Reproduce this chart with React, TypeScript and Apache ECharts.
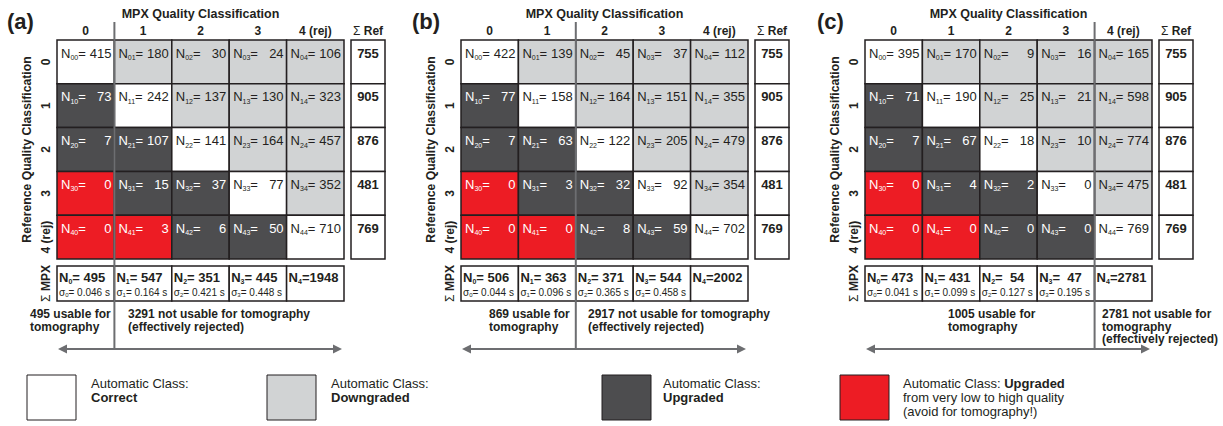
import React, { useEffect, useRef } from "react";
import * as echarts from "echarts";

// ---------- data ----------
const mpxClasses = ["0", "1", "2", "3", "4 (rej)"];
const refClasses = ["0", "1", "2", "3", "4 (rej)"];
const refTotals = [755, 905, 876, 481, 769];
const panelLabels = ["(a)", "(b)", "(c)"];

const matrixA = [
  [415, 180, 30, 24, 106],
  [73, 242, 137, 130, 323],
  [7, 107, 141, 164, 457],
  [0, 15, 37, 77, 352],
  [0, 3, 6, 50, 710],
];
const mpxTotalsA = [495, 547, 351, 445, 1948];
const sigmaA = ["0.046", "0.164", "0.421", "0.448"];

const matrixB = [
  [422, 139, 45, 37, 112],
  [77, 158, 164, 151, 355],
  [7, 63, 122, 205, 479],
  [0, 3, 32, 92, 354],
  [0, 0, 8, 59, 702],
];
const mpxTotalsB = [506, 363, 371, 544, 2002];
const sigmaB = ["0.044", "0.096", "0.365", "0.458"];

const matrixC = [
  [395, 170, 9, 16, 165],
  [71, 190, 25, 21, 598],
  [7, 67, 18, 10, 774],
  [0, 4, 2, 0, 475],
  [0, 0, 0, 0, 769],
];
const mpxTotalsC = [473, 431, 54, 47, 2781];
const sigmaC = ["0.041", "0.099", "0.127", "0.195"];

const cutoffs = [1, 2, 4];
const usableLeft = [
  "495 usable for\ntomography",
  "869 usable for\ntomography",
  "1005 usable for\ntomography",
];
const usableRight = [
  "3291 not usable for tomography\n(effectively rejected)",
  "2917 not usable for tomography\n(effectively rejected)",
  "2781 not usable for\ntomography\n(effectively rejected)",
];

const legendItems = [
  { text: "Automatic Class:\n{b|Correct}", cls: "correct" },
  { text: "Automatic Class:\n{b|Downgraded}", cls: "down" },
  { text: "Automatic Class:\n{b|Upgraded}", cls: "up" },
  {
    text: "Automatic Class: {b|Upgraded}\nfrom very low to high quality\n(avoid for tomography!)",
    cls: "red",
  },
];

// ---------- styles ----------
const FONT = '"Liberation Sans", Arial, Helvetica, sans-serif';
const INK = "#231f20";
const WHITE = "#ffffff";
const LIGHT = "#d1d3d4";
const DARK = "#4d4d4f";
const RED = "#ed1c24";
const MID = "#6d6e71";
const clsColor: Record<string, string> = { correct: WHITE, down: LIGHT, up: DARK, red: RED };

const panelLeft = [57, 461, 865];
const labelX = [7, 412, 817];
const usableLeftX = [30, 489, 948];
const usableRightX = [128, 588, 1102];
const CELL_W = 287 / 5;

function classOf(row: number, col: number) {
  const d = row - col;
  if (d === 0) return "correct";
  if (d < 0) return "down";
  if (d >= 3) return "red";
  return "up";
}

function buildOption() {
  const matrices = [matrixA, matrixB, matrixC];
  const mpxTotals = [mpxTotalsA, mpxTotalsB, mpxTotalsC];
  const sigmas = [sigmaA, sigmaB, sigmaC];

  const grid: any[] = [];
  const xAxis: any[] = [];
  const yAxis: any[] = [];
  const series: any[] = [];
  const graphic: any[] = [];

  const boldLabel = { fontWeight: "bold", fontSize: 12, color: INK, fontFamily: FONT };

  for (let p = 0; p < 3; p++) {
    const L = panelLeft[p];
    const g = p * 3;
    grid.push({ left: L, top: 40, width: 287, height: 219, outerBoundsMode: "none" });
    grid.push({ left: L + 294, top: 40, width: 34, height: 219, outerBoundsMode: "none" });
    grid.push({ left: L, top: 266, width: 287, height: 35, outerBoundsMode: "none" });

    xAxis.push({
      gridIndex: g,
      type: "category",
      data: mpxClasses,
      position: "top",
      axisLine: { show: false },
      axisTick: { show: false },
      splitLine: { show: false },
      axisLabel: { ...boldLabel, margin: 3, interval: 0 },
      name: "MPX Quality Classification",
      nameLocation: "middle",
      nameGap: 18,
      nameTextStyle: { fontWeight: "bold", fontSize: 12.5, color: INK, fontFamily: FONT },
    });
    xAxis.push({
      gridIndex: g + 1,
      type: "category",
      data: ["Σ Ref"],
      position: "top",
      axisLine: { show: false },
      axisTick: { show: false },
      splitLine: { show: false },
      axisLabel: {
        ...boldLabel,
        margin: 3,
        formatter: () => "{s|Σ} Ref",
        rich: { s: { fontWeight: "normal", fontSize: 12, color: INK, fontFamily: FONT } },
      },
    });
    xAxis.push({ gridIndex: g + 2, type: "category", data: mpxClasses, show: false });

    yAxis.push({
      gridIndex: g,
      type: "category",
      data: refClasses,
      inverse: true,
      axisLine: { show: false },
      axisTick: { show: false },
      splitLine: { show: false },
      axisLabel: { ...boldLabel, rotate: 90, margin: 5, interval: 0 },
      name: "Reference Quality Classification",
      nameLocation: "middle",
      nameRotate: 90,
      nameGap: 24,
      nameTextStyle: { fontWeight: "bold", fontSize: 12.2, color: INK, fontFamily: FONT },
    });
    yAxis.push({ gridIndex: g + 1, type: "category", data: refClasses, inverse: true, show: false });
    yAxis.push({
      gridIndex: g + 2,
      type: "category",
      data: ["Σ MPX"],
      axisLine: { show: false },
      axisTick: { show: false },
      splitLine: { show: false },
      axisLabel: {
        ...boldLabel,
        rotate: 90,
        margin: 5,
        formatter: () => "{s|Σ} MPX",
        rich: { s: { fontWeight: "normal", fontSize: 12, color: INK, fontFamily: FONT } },
      },
    });

    // matrix cells
    const mData: number[][] = [];
    matrices[p].forEach((row, i) => row.forEach((v, j) => mData.push([j, i, v])));
    series.push({
      type: "custom",
      xAxisIndex: g,
      yAxisIndex: g,
      encode: { x: 0, y: 1 },
      data: mData,
      renderItem: (_params: any, api: any) => {
        const col = api.value(0);
        const row = api.value(1);
        const v = api.value(2);
        const c = api.coord([col, row]);
        const s = api.size([1, 1]);
        const x = c[0] - s[0] / 2;
        const y = c[1] - s[1] / 2;
        const cls = classOf(row, col);
        const txt = cls === "up" || cls === "red" ? "#ffffff" : INK;
        return {
          type: "group",
          children: [
            {
              type: "rect",
              shape: { x, y, width: s[0], height: s[1] },
              style: { fill: clsColor[cls], stroke: INK, lineWidth: 1.5 },
            },
            {
              type: "text",
              style: {
                text: `N{s|${row}${col}}=`,
                x: x + 4,
                y: y + 13,
                align: "left",
                verticalAlign: "middle",
                fill: txt,
                fontSize: 13,
                fontFamily: FONT,
                lineHeight: 16,
                rich: { s: { fontSize: 7, lineHeight: 6, verticalAlign: "bottom", fill: txt, fontFamily: FONT } },
              },
            },
            {
              type: "text",
              style: {
                text: String(v),
                x: x + s[0] - 3,
                y: y + 13,
                align: "right",
                verticalAlign: "middle",
                fill: txt,
                fontSize: 13,
                fontFamily: FONT,
              },
            },
          ],
        };
      },
    });

    // reference totals
    series.push({
      type: "custom",
      xAxisIndex: g + 1,
      yAxisIndex: g + 1,
      encode: { x: 0, y: 1 },
      data: refTotals.map((v, i) => [0, i, v]),
      renderItem: (_params: any, api: any) => {
        const c = api.coord([api.value(0), api.value(1)]);
        const s = api.size([1, 1]);
        const x = c[0] - s[0] / 2;
        const y = c[1] - s[1] / 2;
        return {
          type: "group",
          children: [
            {
              type: "rect",
              shape: { x, y, width: s[0], height: s[1] },
              style: { fill: WHITE, stroke: INK, lineWidth: 1.5 },
            },
            {
              type: "text",
              style: {
                text: String(api.value(2)),
                x: c[0],
                y: y + 13,
                align: "center",
                verticalAlign: "middle",
                fill: INK,
                fontSize: 13,
                fontWeight: "bold",
                fontFamily: FONT,
              },
            },
          ],
        };
      },
    });

    // MPX totals
    const sig = sigmas[p];
    series.push({
      type: "custom",
      xAxisIndex: g + 2,
      yAxisIndex: g + 2,
      encode: { x: 0, y: 1 },
      data: mpxTotals[p].map((v, j) => [j, 0, v]),
      renderItem: (params: any, api: any) => {
        const j = api.value(0);
        const n = api.value(2);
        const c = api.coord([j, 0]);
        const s = api.size([1, 1]);
        const x = c[0] - s[0] / 2;
        const y = c[1] - s[1] / 2;
        const pad = n < 100 ? "  " : n < 1000 ? " " : "";
        const children: any[] = [
          {
            type: "rect",
            shape: { x, y, width: s[0], height: s[1] },
            style: { fill: WHITE, stroke: INK, lineWidth: 1.5 },
          },
          {
            type: "text",
            style: {
              text: `N{s|${j}}=${pad}${n}`,
              x: x + 2,
              y: y + 11,
              align: "left",
              verticalAlign: "middle",
              fill: INK,
              fontSize: 13,
              fontWeight: "bold",
              fontFamily: FONT,
              lineHeight: 16,
              rich: {
                s: { fontSize: 7, fontWeight: "bold", lineHeight: 6, verticalAlign: "bottom", fill: INK, fontFamily: FONT },
              },
            },
          },
        ];
        if (j < sig.length) {
          children.push({
            type: "text",
            style: {
              text: `σ{s|${j}}= ${sig[j]} s`,
              x: x + 2,
              y: y + 26,
              align: "left",
              verticalAlign: "middle",
              fill: INK,
              fontSize: 10,
              fontFamily: FONT,
              lineHeight: 12,
              rich: { s: { fontSize: 6, lineHeight: 5, verticalAlign: "bottom", fill: INK, fontFamily: FONT } },
            },
          });
        }
        return { type: "group", children };
      },
    });

    // panel label
    graphic.push({
      type: "text",
      x: labelX[p],
      y: 21,
      style: { text: panelLabels[p], fontSize: 22, fontWeight: "bold", fontFamily: FONT, fill: INK, verticalAlign: "middle" },
    });

    // separation line
    const sx = L + cutoffs[p] * CELL_W;
    graphic.push({
      type: "line",
      z: 100,
      shape: { x1: sx, y1: 22, x2: sx, y2: 349 },
      style: { stroke: MID, lineWidth: 2 },
    });
    // arrow
    graphic.push({
      type: "line",
      z: 100,
      shape: { x1: L + 8, y1: 349, x2: L + 278, y2: 349 },
      style: { stroke: MID, lineWidth: 2 },
    });
    graphic.push({
      type: "polygon",
      z: 100,
      shape: { points: [[L + 1, 349], [L + 10, 344.5], [L + 10, 353.5]] },
      style: { fill: MID },
    });
    graphic.push({
      type: "polygon",
      z: 100,
      shape: { points: [[L + 285, 349], [L + 276, 344.5], [L + 276, 353.5]] },
      style: { fill: MID },
    });
    // usable texts
    graphic.push({
      type: "text",
      x: usableLeftX[p],
      y: 308,
      style: { text: usableLeft[p], fontSize: 12, fontWeight: "bold", fontFamily: FONT, fill: INK, lineHeight: 12.5, verticalAlign: "top" },
    });
    graphic.push({
      type: "text",
      x: usableRightX[p],
      y: 308,
      style: { text: usableRight[p], fontSize: 12, fontWeight: "bold", fontFamily: FONT, fill: INK, lineHeight: 12.5, verticalAlign: "top" },
    });
  }

  // legend
  const boxX = [27, 267, 602, 840];
  const textX = [91, 331, 663, 903];
  legendItems.forEach((it, k) => {
    graphic.push({
      type: "rect",
      shape: { x: boxX[k], y: 375, width: 49, height: 45 },
      style: { fill: clsColor[it.cls], stroke: INK, lineWidth: 1 },
    });
    graphic.push({
      type: "text",
      x: textX[k],
      y: 376,
      style: {
        text: it.text,
        fontSize: 13,
        fontFamily: FONT,
        fill: INK,
        lineHeight: 14,
        verticalAlign: "top",
        rich: { b: { fontSize: 13, fontWeight: "bold", fontFamily: FONT, fill: INK, lineHeight: 14 } },
      },
    });
  });

  return {
    animation: false,
    backgroundColor: "#ffffff",
    grid,
    xAxis,
    yAxis,
    series,
    graphic,
  };
}

export default function App() {
  const ref = useRef<HTMLDivElement>(null);
  useEffect(() => {
    if (!ref.current) return;
    const chart = echarts.init(ref.current, null, { renderer: "svg" });
    chart.setOption(buildOption() as any);
    return () => chart.dispose();
  }, []);
  return (
    <div
      ref={ref}
      style={{ position: "absolute", left: 0, top: 0, width: 1223, height: 426 }}
    />
  );
}
